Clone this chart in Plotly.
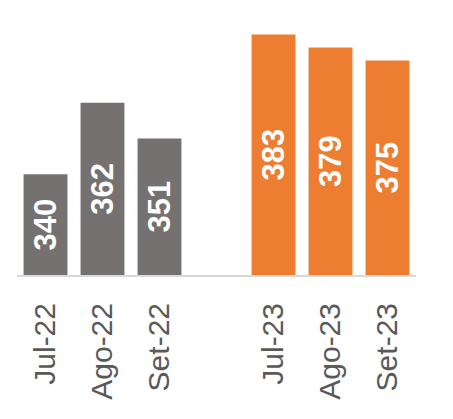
import plotly.graph_objects as go

months_22 = ["Jul-22", "Ago-22", "Set-22"]
values_22 = [340, 362, 351]
months_23 = ["Jul-23", "Ago-23", "Set-23"]
values_23 = [383, 379, 375]
# blank slot between the two years
axis_order = months_22 + [" "] + months_23

gray = "#767171"
orange = "#ED7D31"

# the value axis is cut at y_min, so bars start there (keeps labels centred in the visible bar)
y_min, y_max = 309, 390.5

fig = go.Figure()
for xs, ys, col in [(months_22, values_22, gray), (months_23, values_23, orange)]:
    fig.add_bar(
        x=xs,
        y=[v - y_min for v in ys],
        base=y_min,
        text=[str(v) for v in ys],
        textposition="inside",
        insidetextanchor="middle",
        textangle=-90,
        textfont=dict(family="Liberation Sans, Arial", size=31, color="white", weight="bold"),
        marker=dict(color=col, line=dict(width=0)),
    )

# page body has an 8px default margin, so margins are shifted to compensate
fig.update_layout(
    width=453,
    height=419,
    margin=dict(l=9, r=45, t=2, b=152),
    paper_bgcolor="white",
    plot_bgcolor="white",
    barmode="overlay",
    bargap=0.23,
    showlegend=False,
    xaxis=dict(
        type="category",
        categoryorder="array",
        categoryarray=axis_order,
        range=[-0.5, 6.5],
        tickangle=-90,
        tickfont=dict(family="Liberation Sans, Arial", size=30, color="#595959"),
        showline=True,
        linecolor="#D9D9D9",
        linewidth=2,
        ticks="outside",
        ticklen=14,
        tickcolor="rgba(0,0,0,0)",
        showgrid=False,
        automargin=False,
    ),
    yaxis=dict(
        range=[y_min, y_max],
        visible=False,
        showgrid=False,
        zeroline=False,
    ),
)

fig.write_html("out.html")
